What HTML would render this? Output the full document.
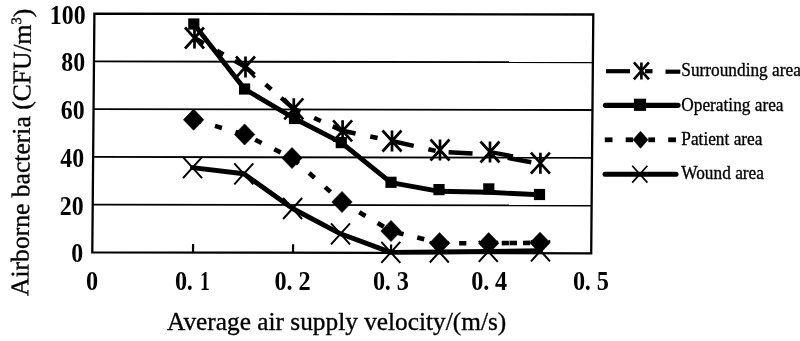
<!DOCTYPE html><html><head><meta charset="utf-8"><style>
html,body{margin:0;padding:0;background:#fff;overflow:hidden}
svg{display:block;will-change:transform}
text{font-family:"Liberation Serif",serif;fill:#000}
.t{stroke:#000;stroke-width:0.35}
.b{font-weight:bold}
</style></head><body>
<svg width="800" height="341" viewBox="0 0 800 341">
<line x1="92.7" y1="204.6" x2="591.6" y2="205.5" stroke="#000" stroke-width="1.9"/>
<line x1="93.1" y1="156.9" x2="592.0" y2="157.8" stroke="#000" stroke-width="1.9"/>
<line x1="93.6" y1="109.1" x2="592.5" y2="110.0" stroke="#000" stroke-width="1.9"/>
<line x1="94.0" y1="61.4" x2="592.9" y2="62.3" stroke="#000" stroke-width="1.9"/>
<polygon points="92.3,252.4 591.2,253.3 593.3,14.5 94.4,13.6" fill="none" stroke="#000" stroke-width="2.3"/>
<line x1="193.0" y1="252.6" x2="193.1" y2="244.1" stroke="#000" stroke-width="2.2"/>
<line x1="293.0" y1="252.8" x2="293.1" y2="244.3" stroke="#000" stroke-width="2.2"/>
<line x1="391.0" y1="252.9" x2="391.1" y2="244.4" stroke="#000" stroke-width="2.2"/>
<line x1="489.5" y1="253.1" x2="489.6" y2="244.6" stroke="#000" stroke-width="2.2"/>
<polyline points="193.8,24 244.6,89 294.5,118.5 341.3,142.6 391,182.6 439.4,191.3 488.8,192.3 539.5,194.8" fill="none" stroke="#000" stroke-width="4.9" stroke-linejoin="round" stroke-linecap="round"/>
<polyline points="192.5,167.6 243.8,173.8 292.6,208.5 340.5,233.8 390.8,252.4 439.3,252 488.3,251.4 540.5,250.8" fill="none" stroke="#000" stroke-width="4.9" stroke-linejoin="round" stroke-linecap="round"/>
<polyline points="194.5,38 245.5,67 293.8,108.8 342.6,130.8 392,141 440,151.8 490,154.5 540.4,164" fill="none" stroke="#000" stroke-width="4.5" stroke-dasharray="24 15 7.5 13" stroke-dashoffset="13.20"/>
<polyline points="193.6,119.7 244.6,134.5 292,158 342,202 391,231 439.6,243.2 488.7,243.2 540,242.8" fill="none" stroke="#000" stroke-width="4.6" stroke-dasharray="7.2 14.100000000000001" stroke-dashoffset="20.30"/>
<line x1="509.5" y1="243" x2="517" y2="243" stroke="#000" stroke-width="4.6"/>
<line x1="490" y1="152" x2="513" y2="156.3" stroke="#000" stroke-width="4.2"/>
<path d="M193.6,109.10000000000001L203.79999999999998,119.7L193.6,130.3L183.4,119.7Z" fill="#000" stroke="#000" stroke-width="0.6" stroke-linejoin="round"/>
<path d="M244.6,123.9L254.79999999999998,134.5L244.6,145.1L234.4,134.5Z" fill="#000" stroke="#000" stroke-width="0.6" stroke-linejoin="round"/>
<path d="M292,147.4L302.2,158L292,168.6L281.8,158Z" fill="#000" stroke="#000" stroke-width="0.6" stroke-linejoin="round"/>
<path d="M342,191.4L352.2,202L342,212.6L331.8,202Z" fill="#000" stroke="#000" stroke-width="0.6" stroke-linejoin="round"/>
<path d="M391,220.4L401.2,231L391,241.6L380.8,231Z" fill="#000" stroke="#000" stroke-width="0.6" stroke-linejoin="round"/>
<path d="M439.6,232.6L449.8,243.2L439.6,253.79999999999998L429.40000000000003,243.2Z" fill="#000" stroke="#000" stroke-width="0.6" stroke-linejoin="round"/>
<path d="M488.7,232.6L498.9,243.2L488.7,253.79999999999998L478.5,243.2Z" fill="#000" stroke="#000" stroke-width="0.6" stroke-linejoin="round"/>
<path d="M540,232.20000000000002L550.2,242.8L540,253.4L529.8,242.8Z" fill="#000" stroke="#000" stroke-width="0.6" stroke-linejoin="round"/>
<rect x="188.20" y="18.40" width="11.2" height="11.2" fill="#000"/>
<rect x="239.00" y="83.40" width="11.2" height="11.2" fill="#000"/>
<rect x="288.90" y="112.90" width="11.2" height="11.2" fill="#000"/>
<rect x="335.70" y="137.00" width="11.2" height="11.2" fill="#000"/>
<rect x="385.40" y="176.70" width="11.2" height="11.2" fill="#000"/>
<rect x="433.40" y="184.00" width="11.2" height="11.2" fill="#000"/>
<rect x="483.20" y="183.30" width="11.2" height="11.2" fill="#000"/>
<rect x="533.90" y="188.90" width="11.2" height="11.2" fill="#000"/>
<path d="M183.0,157.1L202.0,178.1M202.0,157.1L183.0,178.1" stroke="#000" stroke-width="2.0" fill="none"/>
<path d="M234.3,163.3L253.3,184.3M253.3,163.3L234.3,184.3" stroke="#000" stroke-width="2.0" fill="none"/>
<path d="M283.1,198.0L302.1,219.0M302.1,198.0L283.1,219.0" stroke="#000" stroke-width="2.0" fill="none"/>
<path d="M331.0,223.3L350.0,244.3M350.0,223.3L331.0,244.3" stroke="#000" stroke-width="2.0" fill="none"/>
<path d="M381.3,241.9L400.3,262.9M400.3,241.9L381.3,262.9" stroke="#000" stroke-width="2.0" fill="none"/>
<path d="M429.8,241.5L448.8,262.5M448.8,241.5L429.8,262.5" stroke="#000" stroke-width="2.0" fill="none"/>
<path d="M478.8,240.9L497.8,261.9M497.8,240.9L478.8,261.9" stroke="#000" stroke-width="2.0" fill="none"/>
<path d="M531.0,240.3L550.0,261.3M550.0,240.3L531.0,261.3" stroke="#000" stroke-width="2.0" fill="none"/>
<path d="M185.0,27.5L204.0,48.5M204.0,27.5L185.0,48.5M194.5,27.5L194.5,48.5" stroke="#000" stroke-width="2.7" fill="none"/>
<path d="M236.0,56.5L255.0,77.5M255.0,56.5L236.0,77.5M245.5,56.5L245.5,77.5" stroke="#000" stroke-width="2.7" fill="none"/>
<path d="M284.3,98.3L303.3,119.3M303.3,98.3L284.3,119.3M293.8,98.3L293.8,119.3" stroke="#000" stroke-width="2.7" fill="none"/>
<path d="M333.1,120.30000000000001L352.1,141.3M352.1,120.30000000000001L333.1,141.3M342.6,120.30000000000001L342.6,141.3" stroke="#000" stroke-width="2.7" fill="none"/>
<path d="M382.5,130.5L401.5,151.5M401.5,130.5L382.5,151.5M392,130.5L392,151.5" stroke="#000" stroke-width="2.7" fill="none"/>
<path d="M430.5,139.5L449.5,160.5M449.5,139.5L430.5,160.5M440,139.5L440,160.5" stroke="#000" stroke-width="2.7" fill="none"/>
<path d="M480.5,141.5L499.5,162.5M499.5,141.5L480.5,162.5M490,141.5L490,162.5" stroke="#000" stroke-width="2.7" fill="none"/>
<path d="M530.9,152.7L549.9,173.7M549.9,152.7L530.9,173.7M540.4,152.7L540.4,173.7" stroke="#000" stroke-width="2.7" fill="none"/>
<text class="b" x="85.6" y="23.6" text-anchor="end" font-size="26.5" transform="translate(85.6 0) scale(0.9 1) translate(-85.6 0)">100</text>
<text class="b" x="85.1" y="71.1" text-anchor="end" font-size="26.5" transform="translate(85.1 0) scale(0.9 1) translate(-85.1 0)">80</text>
<text class="b" x="84.6" y="118.8" text-anchor="end" font-size="26.5" transform="translate(84.6 0) scale(0.9 1) translate(-84.6 0)">60</text>
<text class="b" x="84.2" y="166.6" text-anchor="end" font-size="26.5" transform="translate(84.2 0) scale(0.9 1) translate(-84.2 0)">40</text>
<text class="b" x="83.7" y="214.8" text-anchor="end" font-size="26.5" transform="translate(83.7 0) scale(0.9 1) translate(-83.7 0)">20</text>
<text class="b" x="83.2" y="262.4" text-anchor="end" font-size="26.5" transform="translate(83.2 0) scale(0.9 1) translate(-83.2 0)">0</text>
<text class="b" x="92.0" y="290" text-anchor="middle" font-size="27" transform="translate(92.0 0) scale(0.9 1) translate(-92.0 0)">0</text>
<text class="b" x="181.0" y="290" text-anchor="middle" font-size="27" transform="translate(181.0 0) scale(0.9 1) translate(-181.0 0)">0</text>
<text class="b" x="189.9" y="290" text-anchor="middle" font-size="27" transform="translate(189.9 0) scale(0.9 1) translate(-189.9 0)">.</text>
<text class="b" x="204.8" y="290" text-anchor="middle" font-size="27" transform="translate(204.8 0) scale(0.72 1) translate(-204.8 0)">1</text>
<text class="b" x="280.7" y="290" text-anchor="middle" font-size="27" transform="translate(280.7 0) scale(0.9 1) translate(-280.7 0)">0</text>
<text class="b" x="289.6" y="290" text-anchor="middle" font-size="27" transform="translate(289.6 0) scale(0.9 1) translate(-289.6 0)">.</text>
<text class="b" x="304.5" y="290" text-anchor="middle" font-size="27" transform="translate(304.5 0) scale(0.9 1) translate(-304.5 0)">2</text>
<text class="b" x="379.0" y="290" text-anchor="middle" font-size="27" transform="translate(379.0 0) scale(0.9 1) translate(-379.0 0)">0</text>
<text class="b" x="387.9" y="290" text-anchor="middle" font-size="27" transform="translate(387.9 0) scale(0.9 1) translate(-387.9 0)">.</text>
<text class="b" x="402.8" y="290" text-anchor="middle" font-size="27" transform="translate(402.8 0) scale(0.9 1) translate(-402.8 0)">3</text>
<text class="b" x="477.4" y="290" text-anchor="middle" font-size="27" transform="translate(477.4 0) scale(0.9 1) translate(-477.4 0)">0</text>
<text class="b" x="486.3" y="290" text-anchor="middle" font-size="27" transform="translate(486.3 0) scale(0.9 1) translate(-486.3 0)">.</text>
<text class="b" x="501.2" y="290" text-anchor="middle" font-size="27" transform="translate(501.2 0) scale(0.9 1) translate(-501.2 0)">4</text>
<text class="b" x="579.0" y="290" text-anchor="middle" font-size="27" transform="translate(579.0 0) scale(0.9 1) translate(-579.0 0)">0</text>
<text class="b" x="587.9" y="290" text-anchor="middle" font-size="27" transform="translate(587.9 0) scale(0.9 1) translate(-587.9 0)">.</text>
<text class="b" x="602.8" y="290" text-anchor="middle" font-size="27" transform="translate(602.8 0) scale(0.9 1) translate(-602.8 0)">5</text>
<text class="t" x="167" y="329.6" font-size="26" transform="translate(167 0) scale(0.975 1) translate(-167 0)">Average air supply velocity/(m/s)</text>
<text class="t" transform="translate(28.2 296) skewX(-0.57) rotate(-90)" x="0" y="0" font-size="25.6">Airborne bacteria (CFU/m<tspan font-size="14.5" dy="-10">3</tspan><tspan dy="10">)</tspan></text>
<text class="t" x="681.3" y="76.5" font-size="18.6" transform="translate(681.3 0) scale(0.93 1) translate(-681.3 0)">Surrounding area</text>
<text class="t" x="681.3" y="110.6" font-size="18.6" transform="translate(681.3 0) scale(0.93 1) translate(-681.3 0)">Operating area</text>
<text class="t" x="681.3" y="145.1" font-size="18.6" transform="translate(681.3 0) scale(0.93 1) translate(-681.3 0)">Patient area</text>
<text class="t" x="681.3" y="179.5" font-size="18.6" transform="translate(681.3 0) scale(0.93 1) translate(-681.3 0)">Wound area</text>
<line x1="606" y1="71.2" x2="630" y2="71.2" stroke="#000" stroke-width="4.2"/>
<line x1="645" y1="71.2" x2="652.5" y2="71.2" stroke="#000" stroke-width="4.2"/>
<line x1="665.5" y1="71.7" x2="680.3" y2="71.7" stroke="#000" stroke-width="4.2"/>
<path d="M633.9,62.400000000000006L648.9,79.4M648.9,62.400000000000006L633.9,79.4M641.4,62.400000000000006L641.4,79.4" stroke="#000" stroke-width="2.6" fill="none"/>
<line x1="605.5" y1="105.3" x2="678" y2="105.3" stroke="#000" stroke-width="5.2" stroke-linecap="round"/>
<rect x="633.90" y="98.70" width="12.2" height="12.2" fill="#000"/>
<line x1="604.8" y1="139.8" x2="612.5" y2="139.8" stroke="#000" stroke-width="4.8"/>
<line x1="625.7" y1="139.8" x2="633" y2="139.8" stroke="#000" stroke-width="4.8"/>
<line x1="648.3" y1="139.8" x2="655" y2="139.8" stroke="#000" stroke-width="4.8"/>
<line x1="668.2" y1="139.8" x2="676" y2="139.8" stroke="#000" stroke-width="4.8"/>
<path d="M640.5,131.3L648.0,139.8L640.5,148.3L633.0,139.8Z" fill="#000" stroke="#000" stroke-width="0.6" stroke-linejoin="round"/>
<line x1="605" y1="174.2" x2="676" y2="174.2" stroke="#000" stroke-width="5" stroke-linecap="round"/>
<path d="M632.1999999999999,165.79999999999998L647.4,182.6M647.4,165.79999999999998L632.1999999999999,182.6" stroke="#000" stroke-width="1.7" fill="none"/>
</svg></body></html>
